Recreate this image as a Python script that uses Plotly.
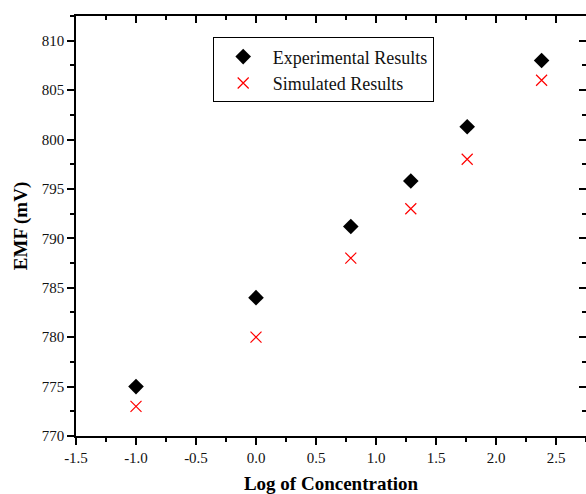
import plotly.graph_objects as go

log_conc = [-1.0, 0.0, 0.79, 1.29, 1.76, 2.38]
emf_experimental = [775.0, 784.0, 791.2, 795.8, 801.3, 808.0]
emf_simulated = [773.0, 780.0, 788.0, 793.0, 798.0, 806.0]

x_range = [-1.5, 2.75]
y_range = [770, 812.5]
x_ticks = [-1.5, -1.0, -0.5, 0.0, 0.5, 1.0, 1.5, 2.0, 2.5]
x_ticklabels = ["-1.5", "-1.0", "-0.5", "0.0", "0.5", "1.0", "1.5", "2.0", "2.5"]
y_ticks = [770, 775, 780, 785, 790, 795, 800, 805, 810]

FONT = "Liberation Serif"

fig = go.Figure()
fig.add_trace(go.Scatter(
    x=log_conc, y=emf_experimental, mode="markers", name="Experimental Results",
    marker=dict(symbol="diamond", size=12, color="black"),
))
fig.add_trace(go.Scatter(
    x=log_conc, y=emf_simulated, mode="markers", name="Simulated Results",
    marker=dict(symbol="x-thin-open", size=11, color="red", line=dict(color="red", width=1.2)),
))
# invisible helper so the mirrored top/right axes are drawn
fig.add_trace(go.Scatter(
    x=log_conc, y=emf_experimental, mode="markers", xaxis="x2", yaxis="y2",
    marker=dict(opacity=0), showlegend=False, hoverinfo="skip",
))

axis_common = dict(showgrid=False, zeroline=False, showline=True, linecolor="black",
                   linewidth=1.6, tickcolor="black", tickwidth=1.5, automargin=False,
                   tickfont=dict(family=FONT, size=15, color="#111"))

fig.update_layout(
    width=586, height=494,
    margin=dict(l=76, r=0, t=16, b=58),
    paper_bgcolor="white", plot_bgcolor="white",
    font=dict(family=FONT, color="black"),
    showlegend=True,
    legend=dict(x=0.268, y=0.949, xanchor="left", yanchor="top",
                bordercolor="black", borderwidth=1, bgcolor="white",
                font=dict(family=FONT, size=18, color="#111"),
                itemwidth=49, tracegroupgap=0),
    xaxis=dict(range=x_range, tickvals=x_ticks, ticktext=x_ticklabels,
               ticks="outside", ticklen=7,
               minor=dict(ticks="outside", ticklen=4, dtick=0.25, tick0=-1.5,
                          tickcolor="black", tickwidth=1.5),
               title=dict(text="<b>Log of Concentration</b>",
                          font=dict(family=FONT, size=19, color="black"), standoff=17),
               **axis_common),
    yaxis=dict(range=y_range, tickvals=y_ticks,
               ticks="outside", ticklen=7,
               minor=dict(ticks="outside", ticklen=4, dtick=2.5, tick0=770,
                          tickcolor="black", tickwidth=1.5),
               title=dict(text="<b>EMF (mV)</b>",
                          font=dict(family=FONT, size=19, color="black"), standoff=9),
               **axis_common),
    xaxis2=dict(overlaying="x", side="top", range=x_range, tickvals=x_ticks,
                showticklabels=False, ticks="inside", ticklen=7,
                minor=dict(ticks="inside", ticklen=4, dtick=0.25, tick0=-1.5,
                           tickcolor="black", tickwidth=1.5),
                **axis_common),
    yaxis2=dict(overlaying="y", side="right", range=y_range, tickvals=y_ticks,
                showticklabels=False, ticks="inside", ticklen=7,
                minor=dict(ticks="inside", ticklen=4, dtick=2.5, tick0=770,
                           tickcolor="black", tickwidth=1.5),
                **axis_common),
)

fig.write_html("out.html", config={"displayModeBar": False},
               post_script="document.body.style.margin='0';document.body.style.overflow='hidden';")
